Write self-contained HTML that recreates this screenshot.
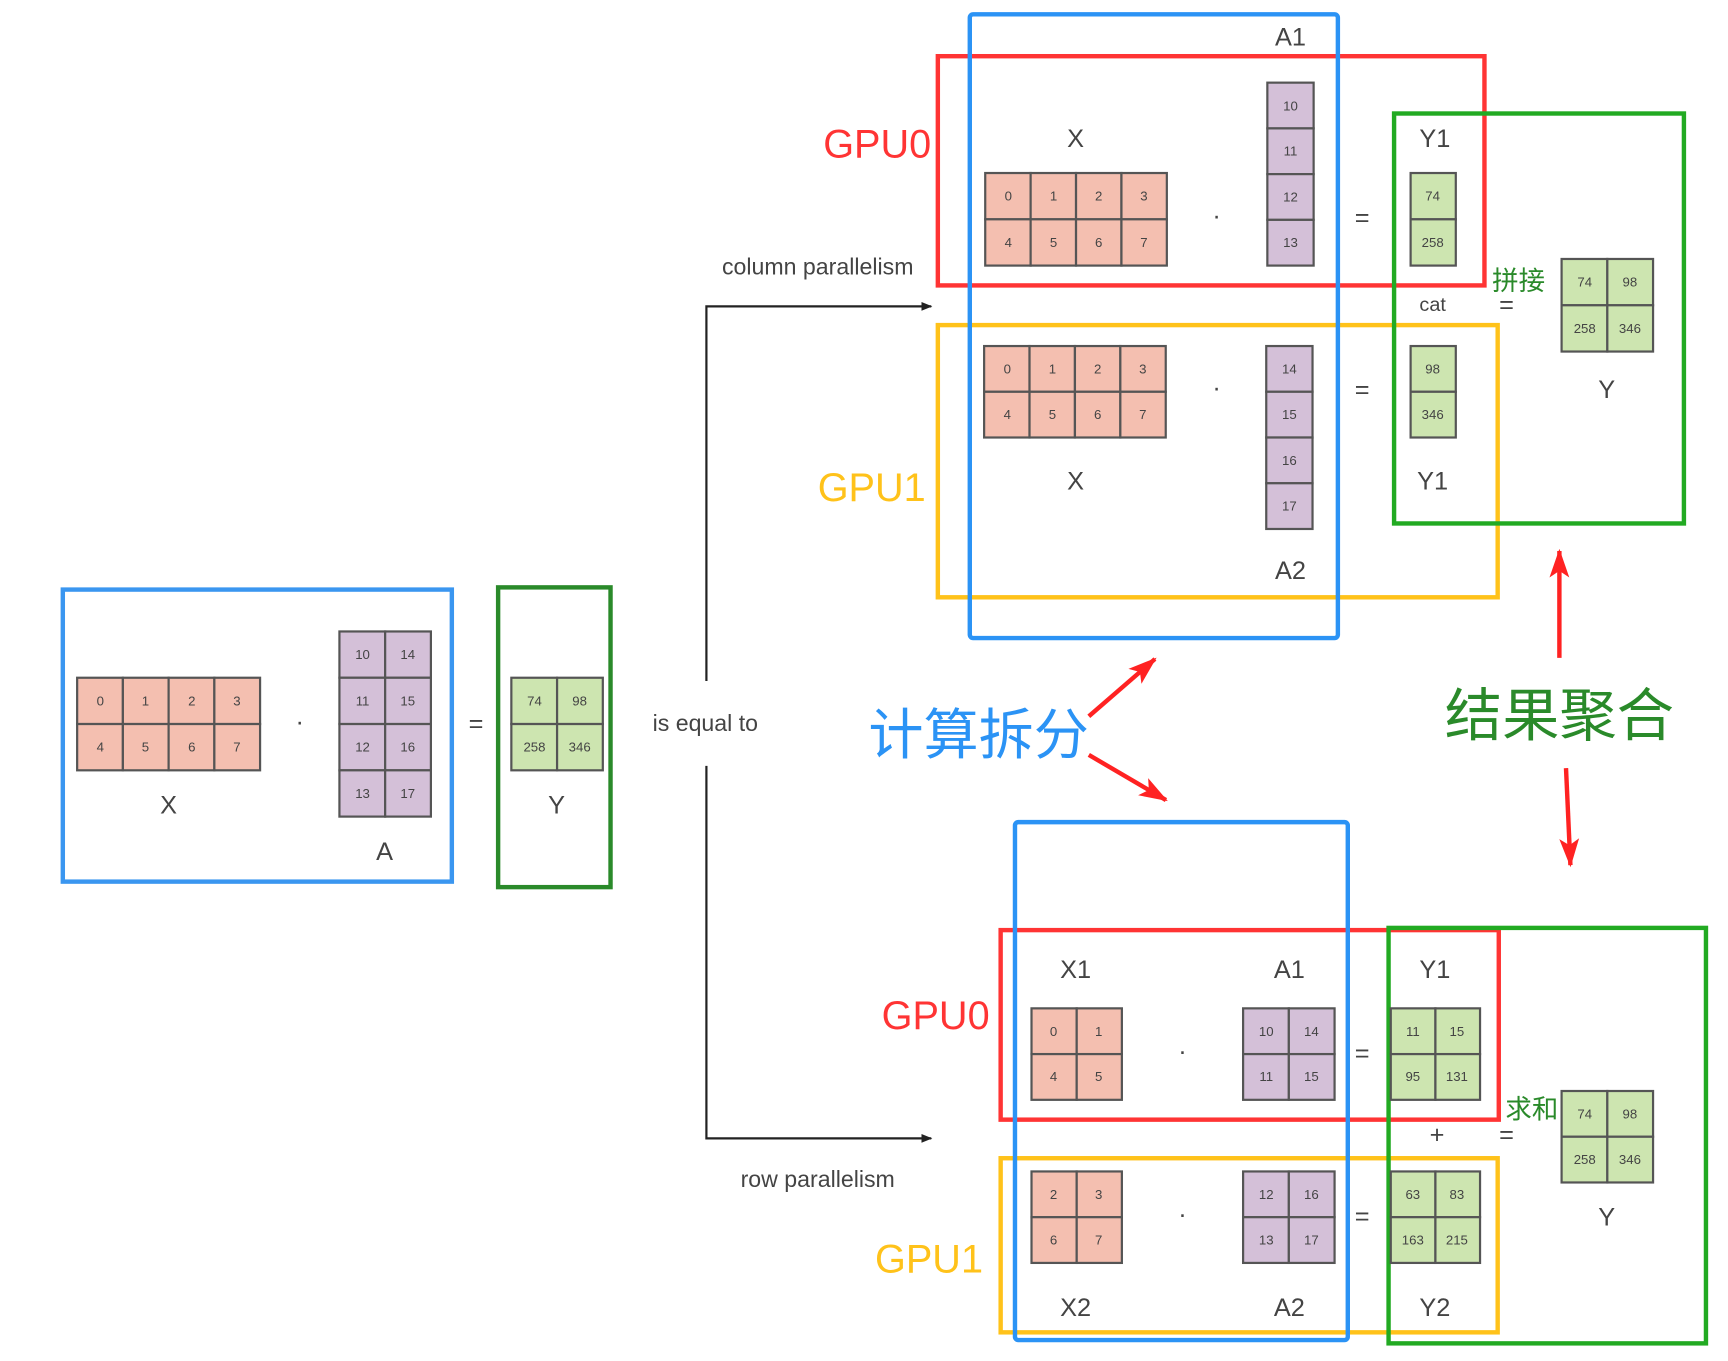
<!DOCTYPE html>
<html><head><meta charset="utf-8"><style>
html,body{margin:0;padding:0;background:#fff;}
svg{display:block}
text{font-family:"Liberation Sans","Noto Sans CJK SC",sans-serif;}
.c{font-size:12px;fill:#444;text-anchor:middle;dominant-baseline:central}
.l{font-size:23px;fill:#444;text-anchor:middle;dominant-baseline:central}
.p{fill:#f4bfb0;stroke:#555;stroke-width:2}
.u{fill:#d4c0d8;stroke:#555;stroke-width:2}
.g{fill:#cde5b0;stroke:#555;stroke-width:2}
.box{fill:none;stroke-width:4}
</style></head><body>
<svg width="1728" height="1361" viewBox="0 0 1568 1235" preserveAspectRatio="none" xmlns="http://www.w3.org/2000/svg">
<defs>
<marker id="ak" markerWidth="10" markerHeight="10" refX="9" refY="5" orient="auto" markerUnits="userSpaceOnUse"><path d="M0,1 L10,5 L0,9 z" fill="#222"/></marker>
<marker id="ar" markerWidth="26" markerHeight="22" refX="24" refY="11" orient="auto" markerUnits="userSpaceOnUse"><path d="M0,2 L26,11 L0,20 L6,11 z" fill="#f22"/></marker>
</defs>

<!-- LEFT -->
<rect class="box" x="57" y="535" width="353" height="265" stroke="#3a96f0" stroke-width="3"/>
<rect class="box" x="452" y="533" width="102" height="272" stroke="#2a8a2a" stroke-width="3"/>
<g>
<rect class="p" x="70" y="615" width="41.5" height="42"/><rect class="p" x="111.5" y="615" width="41.5" height="42"/><rect class="p" x="153" y="615" width="41.5" height="42"/><rect class="p" x="194.5" y="615" width="41.5" height="42"/>
<rect class="p" x="70" y="657" width="41.5" height="42"/><rect class="p" x="111.5" y="657" width="41.5" height="42"/><rect class="p" x="153" y="657" width="41.5" height="42"/><rect class="p" x="194.5" y="657" width="41.5" height="42"/>
<text class="c" x="91" y="636">0</text><text class="c" x="132" y="636">1</text><text class="c" x="174" y="636">2</text><text class="c" x="215" y="636">3</text>
<text class="c" x="91" y="678">4</text><text class="c" x="132" y="678">5</text><text class="c" x="174" y="678">6</text><text class="c" x="215" y="678">7</text>
</g>
<g>
<rect class="u" x="308" y="573" width="41.5" height="42"/><rect class="u" x="349.5" y="573" width="41.5" height="42"/>
<rect class="u" x="308" y="615" width="41.5" height="42"/><rect class="u" x="349.5" y="615" width="41.5" height="42"/>
<rect class="u" x="308" y="657" width="41.5" height="42"/><rect class="u" x="349.5" y="657" width="41.5" height="42"/>
<rect class="u" x="308" y="699" width="41.5" height="42"/><rect class="u" x="349.5" y="699" width="41.5" height="42"/>
<text class="c" x="329" y="594">10</text><text class="c" x="370" y="594">14</text>
<text class="c" x="329" y="636">11</text><text class="c" x="370" y="636">15</text>
<text class="c" x="329" y="678">12</text><text class="c" x="370" y="678">16</text>
<text class="c" x="329" y="720">13</text><text class="c" x="370" y="720">17</text>
</g>
<g>
<rect class="g" x="464" y="615" width="41.5" height="42"/><rect class="g" x="505.5" y="615" width="41.5" height="42"/>
<rect class="g" x="464" y="657" width="41.5" height="42"/><rect class="g" x="505.5" y="657" width="41.5" height="42"/>
<text class="c" x="485" y="636">74</text><text class="c" x="526" y="636">98</text>
<text class="c" x="485" y="678">258</text><text class="c" x="526" y="678">346</text>
</g>
<text class="l" x="272" y="655">·</text>
<text class="l" x="432" y="657">=</text>
<text class="l" x="153" y="731">X</text>
<text class="l" x="349" y="773">A</text>
<text class="l" x="505" y="731">Y</text>

<text class="l" x="640" y="656" style="font-size:21px">is equal to</text>
<path d="M641,618 V278 H845" fill="none" stroke="#222" stroke-width="2" marker-end="url(#ak)"/>
<path d="M641,695 V1033 H845" fill="none" stroke="#222" stroke-width="2" marker-end="url(#ak)"/>
<text class="l" x="742" y="242" style="font-size:21px">column parallelism</text>
<text class="l" x="742" y="1070" style="font-size:21px">row parallelism</text>

<!-- TOP -->
<rect class="box" x="851" y="51" width="496" height="208" stroke="#ff3434"/>
<rect class="box" x="851" y="295" width="508" height="247" stroke="#ffc21a"/>
<rect class="box" x="1265" y="103" width="263" height="372" stroke="#22aa22"/>
<rect class="box" x="880" y="13" width="334" height="566" stroke="#2b93f5" rx="3"/>
<text x="845" y="131" style="font-size:36px;fill:#ff3434;text-anchor:end;dominant-baseline:central">GPU0</text>
<text x="840" y="443" style="font-size:36px;fill:#ffc21a;text-anchor:end;dominant-baseline:central">GPU1</text>
<text class="l" x="976" y="126">X</text>
<g>
<rect class="p" x="894" y="157" width="41.2" height="42"/><rect class="p" x="935.2" y="157" width="41.2" height="42"/><rect class="p" x="976.4" y="157" width="41.2" height="42"/><rect class="p" x="1017.6" y="157" width="41.2" height="42"/>
<rect class="p" x="894" y="199" width="41.2" height="42"/><rect class="p" x="935.2" y="199" width="41.2" height="42"/><rect class="p" x="976.4" y="199" width="41.2" height="42"/><rect class="p" x="1017.6" y="199" width="41.2" height="42"/>
<text class="c" x="915" y="178">0</text><text class="c" x="956" y="178">1</text><text class="c" x="997" y="178">2</text><text class="c" x="1038" y="178">3</text>
<text class="c" x="915" y="220">4</text><text class="c" x="956" y="220">5</text><text class="c" x="997" y="220">6</text><text class="c" x="1038" y="220">7</text>
</g>
<g>
<rect class="u" x="1150" y="75" width="42" height="41.5"/><rect class="u" x="1150" y="116.5" width="42" height="41.5"/><rect class="u" x="1150" y="158" width="42" height="41.5"/><rect class="u" x="1150" y="199.5" width="42" height="41.5"/>
<text class="c" x="1171" y="96">10</text><text class="c" x="1171" y="137">11</text><text class="c" x="1171" y="179">12</text><text class="c" x="1171" y="220">13</text>
</g>
<text class="l" x="1104" y="196">·</text>
<text class="l" x="1236" y="198">=</text>
<text class="l" x="1302" y="126">Y1</text>
<g>
<rect class="g" x="1280" y="157" width="41" height="42"/><rect class="g" x="1280" y="199" width="41" height="42"/>
<text class="c" x="1300" y="178">74</text><text class="c" x="1300" y="220">258</text>
</g>
<text class="l" x="1171" y="34">A1</text>

<g>
<rect class="p" x="893" y="314" width="41.2" height="41.5"/><rect class="p" x="934.2" y="314" width="41.2" height="41.5"/><rect class="p" x="975.4" y="314" width="41.2" height="41.5"/><rect class="p" x="1016.6" y="314" width="41.2" height="41.5"/>
<rect class="p" x="893" y="355.5" width="41.2" height="41.5"/><rect class="p" x="934.2" y="355.5" width="41.2" height="41.5"/><rect class="p" x="975.4" y="355.5" width="41.2" height="41.5"/><rect class="p" x="1016.6" y="355.5" width="41.2" height="41.5"/>
<text class="c" x="914" y="335">0</text><text class="c" x="955" y="335">1</text><text class="c" x="996" y="335">2</text><text class="c" x="1037" y="335">3</text>
<text class="c" x="914" y="376">4</text><text class="c" x="955" y="376">5</text><text class="c" x="996" y="376">6</text><text class="c" x="1037" y="376">7</text>
</g>
<g>
<rect class="u" x="1149" y="314" width="42" height="41.5"/><rect class="u" x="1149" y="355.5" width="42" height="41.5"/><rect class="u" x="1149" y="397" width="42" height="41.5"/><rect class="u" x="1149" y="438.5" width="42" height="41.5"/>
<text class="c" x="1170" y="335">14</text><text class="c" x="1170" y="376">15</text><text class="c" x="1170" y="418">16</text><text class="c" x="1170" y="459">17</text>
</g>
<text class="l" x="1104" y="352">·</text>
<text class="l" x="1236" y="354">=</text>
<g>
<rect class="g" x="1280" y="314" width="41" height="41.5"/><rect class="g" x="1280" y="355.5" width="41" height="41.5"/>
<text class="c" x="1300" y="335">98</text><text class="c" x="1300" y="376">346</text>
</g>
<text class="l" x="976" y="437">X</text>
<text class="l" x="1300" y="437">Y1</text>
<text class="l" x="1171" y="518">A2</text>
<text class="l" x="1300" y="277" style="font-size:18px">cat</text>
<text x="1378" y="255" style="font-size:24px;fill:#2a8a2a;text-anchor:middle;dominant-baseline:central">拼接</text>
<text class="l" x="1367" y="277">=</text>
<g>
<rect class="g" x="1417" y="235" width="41.5" height="42"/><rect class="g" x="1458.5" y="235" width="41.5" height="42"/>
<rect class="g" x="1417" y="277" width="41.5" height="42"/><rect class="g" x="1458.5" y="277" width="41.5" height="42"/>
<text class="c" x="1438" y="256">74</text><text class="c" x="1479" y="256">98</text>
<text class="c" x="1438" y="298">258</text><text class="c" x="1479" y="298">346</text>
</g>
<text class="l" x="1458" y="354">Y</text>

<!-- MIDDLE -->
<text x="888" y="667" style="font-size:50px;fill:#2b93f5;text-anchor:middle;dominant-baseline:central">计算拆分</text>
<line x1="988" y1="650" x2="1048" y2="598" stroke="#f22" stroke-width="4" marker-end="url(#ar)"/>
<line x1="988" y1="685" x2="1058" y2="726" stroke="#f22" stroke-width="4" marker-end="url(#ar)"/>
<text x="1415" y="650" style="font-size:52px;fill:#2a8a2a;text-anchor:middle;dominant-baseline:central">结果聚合</text>
<line x1="1415" y1="597" x2="1415" y2="500" stroke="#f22" stroke-width="4" marker-end="url(#ar)"/>
<line x1="1421" y1="697" x2="1425" y2="785" stroke="#f22" stroke-width="4" marker-end="url(#ar)"/>

<!-- BOTTOM -->
<rect class="box" x="908" y="844" width="452" height="172" stroke="#ff3434"/>
<rect class="box" x="908" y="1051" width="451" height="158" stroke="#ffc21a"/>
<rect class="box" x="1260" y="842" width="288" height="377" stroke="#22aa22"/>
<rect class="box" x="921" y="746" width="302" height="470" stroke="#2b93f5" rx="3"/>
<text x="898" y="922" style="font-size:36px;fill:#ff3434;text-anchor:end;dominant-baseline:central">GPU0</text>
<text x="892" y="1143" style="font-size:36px;fill:#ffc21a;text-anchor:end;dominant-baseline:central">GPU1</text>
<text class="l" x="976" y="880">X1</text><text class="l" x="1170" y="880">A1</text><text class="l" x="1302" y="880">Y1</text>
<text class="l" x="976" y="1187">X2</text><text class="l" x="1170" y="1187">A2</text><text class="l" x="1302" y="1187">Y2</text>
<g>
<rect class="p" x="936" y="915" width="41" height="41.5"/><rect class="p" x="977" y="915" width="41" height="41.5"/>
<rect class="p" x="936" y="956.5" width="41" height="41.5"/><rect class="p" x="977" y="956.5" width="41" height="41.5"/>
<text class="c" x="956" y="936">0</text><text class="c" x="997" y="936">1</text><text class="c" x="956" y="977">4</text><text class="c" x="997" y="977">5</text>
</g>
<g>
<rect class="u" x="1128" y="915" width="41.5" height="41.5"/><rect class="u" x="1169.5" y="915" width="41.5" height="41.5"/>
<rect class="u" x="1128" y="956.5" width="41.5" height="41.5"/><rect class="u" x="1169.5" y="956.5" width="41.5" height="41.5"/>
<text class="c" x="1149" y="936">10</text><text class="c" x="1190" y="936">14</text><text class="c" x="1149" y="977">11</text><text class="c" x="1190" y="977">15</text>
</g>
<g>
<rect class="g" x="1262" y="915" width="40.5" height="41.5"/><rect class="g" x="1302.5" y="915" width="40.5" height="41.5"/>
<rect class="g" x="1262" y="956.5" width="40.5" height="41.5"/><rect class="g" x="1302.5" y="956.5" width="40.5" height="41.5"/>
<text class="c" x="1282" y="936">11</text><text class="c" x="1322" y="936">15</text><text class="c" x="1282" y="977">95</text><text class="c" x="1322" y="977">131</text>
</g>
<text class="l" x="1073" y="954">·</text><text class="l" x="1236" y="956">=</text>
<g>
<rect class="p" x="936" y="1063" width="41" height="41.5"/><rect class="p" x="977" y="1063" width="41" height="41.5"/>
<rect class="p" x="936" y="1104.5" width="41" height="41.5"/><rect class="p" x="977" y="1104.5" width="41" height="41.5"/>
<text class="c" x="956" y="1084">2</text><text class="c" x="997" y="1084">3</text><text class="c" x="956" y="1125">6</text><text class="c" x="997" y="1125">7</text>
</g>
<g>
<rect class="u" x="1128" y="1063" width="41.5" height="41.5"/><rect class="u" x="1169.5" y="1063" width="41.5" height="41.5"/>
<rect class="u" x="1128" y="1104.5" width="41.5" height="41.5"/><rect class="u" x="1169.5" y="1104.5" width="41.5" height="41.5"/>
<text class="c" x="1149" y="1084">12</text><text class="c" x="1190" y="1084">16</text><text class="c" x="1149" y="1125">13</text><text class="c" x="1190" y="1125">17</text>
</g>
<g>
<rect class="g" x="1262" y="1063" width="40.5" height="41.5"/><rect class="g" x="1302.5" y="1063" width="40.5" height="41.5"/>
<rect class="g" x="1262" y="1104.5" width="40.5" height="41.5"/><rect class="g" x="1302.5" y="1104.5" width="40.5" height="41.5"/>
<text class="c" x="1282" y="1084">63</text><text class="c" x="1322" y="1084">83</text><text class="c" x="1282" y="1125">163</text><text class="c" x="1322" y="1125">215</text>
</g>
<text class="l" x="1073" y="1102">·</text><text class="l" x="1236" y="1104">=</text>
<text class="l" x="1304" y="1030">+</text>
<text x="1390" y="1007" style="font-size:24px;fill:#2a8a2a;text-anchor:middle;dominant-baseline:central">求和</text>
<text class="l" x="1367" y="1030">=</text>
<g>
<rect class="g" x="1417" y="990" width="41.5" height="41.5"/><rect class="g" x="1458.5" y="990" width="41.5" height="41.5"/>
<rect class="g" x="1417" y="1031.5" width="41.5" height="41.5"/><rect class="g" x="1458.5" y="1031.5" width="41.5" height="41.5"/>
<text class="c" x="1438" y="1011">74</text><text class="c" x="1479" y="1011">98</text>
<text class="c" x="1438" y="1052">258</text><text class="c" x="1479" y="1052">346</text>
</g>
<text class="l" x="1458" y="1105">Y</text>
</svg>
</body></html>
